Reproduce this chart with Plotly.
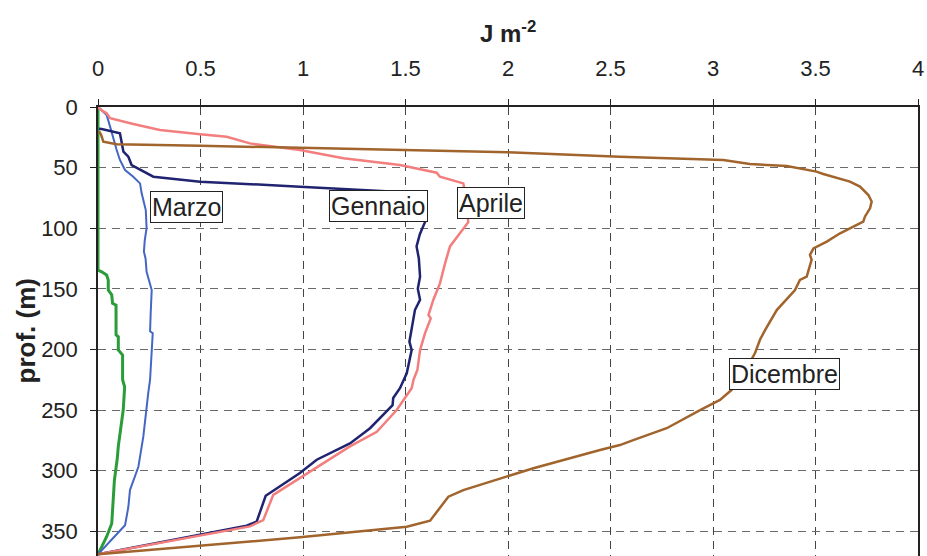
import plotly.graph_objects as go

# ---- data (x = J m^-2, y = depth in m) ----
feb_x = [0, 0, 0.018, 0.042, 0.05, 0.05, 0.067, 0.071, 0.088, 0.088, 0.099, 0.099, 0.12, 0.12, 0.13, 0.123, 0.099, 0.094, 0.08, 0.075, 0.067, 0.042, 0]
feb_y = [0, 134.5, 136, 138.6, 142.7, 151, 155, 162, 163.4, 188, 189.5, 200.5, 204.6, 225, 231, 250, 280, 290, 308, 321.5, 343.6, 354.5, 369]

mar_x = [0, 0.026, 0.042, 0.059, 0.075, 0.091, 0.107, 0.132, 0.172, 0.205, 0.213, 0.233, 0.237, 0.228, 0.224, 0.232, 0.237, 0.262, 0.257, 0.254, 0.267, 0.262, 0.254, 0.245, 0.237, 0.221, 0.197, 0.156, 0.148, 0.132, 0]
mar_y = [0, 3.9, 6.6, 16.2, 27, 35.5, 43.7, 52, 57.5, 63, 71.2, 85, 100, 110, 119.4, 125, 135.9, 151, 170, 185, 186.7, 206, 225, 236, 250, 272, 296.8, 316, 330, 345, 369]

gen_x = [0.005, 0.018, 0.107, 0.124, 0.148, 0.164, 0.27, 0.498, 0.985, 1.2, 1.45, 1.58, 1.595, 1.57, 1.554, 1.565, 1.571, 1.56, 1.571, 1.546, 1.53, 1.519, 1.53, 1.506, 1.473, 1.44, 1.437, 1.327, 1.229, 1.067, 0.985, 0.855, 0.818, 0.774, 0.725, 0]
gen_y = [18, 18.2, 21.7, 36.9, 41, 47.9, 57.5, 61.6, 65.7, 67.7, 70, 80, 95, 105, 115, 125, 140, 150, 159, 167.5, 182.6, 193.6, 200.5, 219.7, 232, 240, 245.9, 265, 277.5, 291, 302, 316, 320.7, 342, 345.4, 369]

apr_x = [0, 0.02, 0.042, 0.059, 0.172, 0.302, 0.498, 0.628, 0.741, 0.985, 1.197, 1.473, 1.652, 1.668, 1.782, 1.8, 1.806, 1.758, 1.717, 1.693, 1.668, 1.636, 1.612, 1.623, 1.595, 1.571, 1.558, 1.539, 1.53, 1.457, 1.36, 1.229, 0.985, 0.855, 0.806, 0.741, 0]
apr_y = [0, 3, 5.2, 9.3, 14, 19, 22.5, 24.5, 30, 35.5, 42.3, 47.9, 54.2, 57.5, 63, 80, 95, 105.6, 115, 129, 145.5, 159, 171.6, 174.4, 186.7, 200.5, 217, 225, 232, 250, 268, 280, 306.4, 320, 340.8, 346, 369]

dic_x = [0.005, 0.015, 0.026, 0.091, 0.498, 1.083, 2.0, 2.546, 3.0, 3.05, 3.18, 3.36, 3.505, 3.538, 3.668, 3.717, 3.758, 3.774, 3.766, 3.741, 3.733, 3.685, 3.62, 3.555, 3.49, 3.473, 3.481, 3.457, 3.424, 3.4, 3.311, 3.254, 3.229, 3.205, 3.15, 3.09, 3.034, 2.937, 2.774, 2.611, 2.546, 2.449, 2.124, 1.782, 1.709, 1.62, 1.506, 0.985, 0]
dic_y = [20, 23, 28.6, 30.8, 31.9, 34, 37.4, 41, 43.2, 43.7, 47, 48.7, 53.3, 55.3, 61.6, 65.7, 72.6, 78, 83.6, 90.5, 94.6, 98.7, 104.2, 111, 116.6, 122, 126, 140, 142.7, 151, 167.5, 184, 192, 203, 220, 233.5, 241.7, 250, 265, 274.8, 278.9, 283, 298, 316, 321.5, 341.3, 346.3, 355, 369]

x_ticks = [0, 0.5, 1, 1.5, 2, 2.5, 3, 3.5, 4]
x_tick_labels = ["0", "0.5", "1", "1.5", "2", "2.5", "3", "3.5", "4"]
y_ticks = [0, 50, 100, 150, 200, 250, 300, 350]

labels = ["Marzo", "Gennaio", "Aprile", "Dicembre", "Febbraio"]
label_x = [0.434, 1.366, 1.917, 3.351, -0.02]
label_y = [82.9, 81.7, 78.8, 220.3, 279.7]

series = [
    ("Febbraio", feb_x, feb_y, "#2a9d3a", 3),
    ("Marzo", mar_x, mar_y, "#4466c4", 2),
    ("Gennaio", gen_x, gen_y, "#1f2370", 2.5),
    ("Aprile", apr_x, apr_y, "#f27e7e", 2.5),
    ("Dicembre", dic_x, dic_y, "#a0642c", 2.5),
]

FONT = "Arial, Liberation Sans, Helvetica, sans-serif"

fig = go.Figure()
for name, xs, ys, col, w in series:
    fig.add_trace(go.Scatter(x=xs, y=ys, mode="lines", name=name,
                             line=dict(color=col, width=w),
                             cliponaxis=False, showlegend=False))

for t, ax, ay in zip(labels, label_x, label_y):
    fig.add_annotation(x=ax, y=ay, xref="x", yref="y", text=t, showarrow=False,
                       font=dict(family=FONT, size=25, color="#222"),
                       bgcolor="white", bordercolor="#222", borderwidth=1, borderpad=1)

fig.add_annotation(x=0.5, y=1 + (107 - 32) / 449, xref="paper", yref="paper",
                   text="<b>J m<sup>-2</sup></b>", showarrow=False,
                   font=dict(family=FONT, size=24, color="#222"),
                   xanchor="center", yanchor="middle")
fig.add_annotation(x=-(98 - 25) / 820, y=0.5, xref="paper", yref="paper",
                   text="<b>prof. (m)</b>", showarrow=False, textangle=-90,
                   font=dict(family=FONT, size=26, color="#222"),
                   xanchor="center", yanchor="middle")

xgrid = dict(showgrid=True, gridcolor="#444444", gridwidth=1, griddash="8px,6px")
ygrid = dict(showgrid=True, gridcolor="#6a6a6a", gridwidth=1, griddash="8px,6px")

fig.update_layout(
    width=927, height=556,
    margin=dict(l=98, r=9, t=107, b=0),
    paper_bgcolor="white", plot_bgcolor="white",
    font=dict(family=FONT, size=22, color="#222"),
    xaxis=dict(side="top", range=[0, 4], tickvals=x_ticks, ticktext=x_tick_labels,
               ticks="outside", ticklen=6, tickcolor="#222",
               showline=True, linecolor="#222", linewidth=1.5,
               zeroline=False, ticklabelstandoff=14, layer="below traces",
               automargin=False,
               tickfont=dict(size=22, color="#222"), **xgrid),
    yaxis=dict(range=[370.4, 0], tickvals=y_ticks,
               ticks="outside", ticklen=6, tickcolor="#222",
               showline=True, linecolor="#222", linewidth=1.5, mirror=True,
               zeroline=False, ticklabelstandoff=8, layer="below traces",
               automargin=False,
               tickfont=dict(size=22, color="#222"), **ygrid),
)

fig.write_html("out.html",
               config={"displayModeBar": False},
               post_script="document.body.style.margin='0';document.body.style.overflow='hidden';")
